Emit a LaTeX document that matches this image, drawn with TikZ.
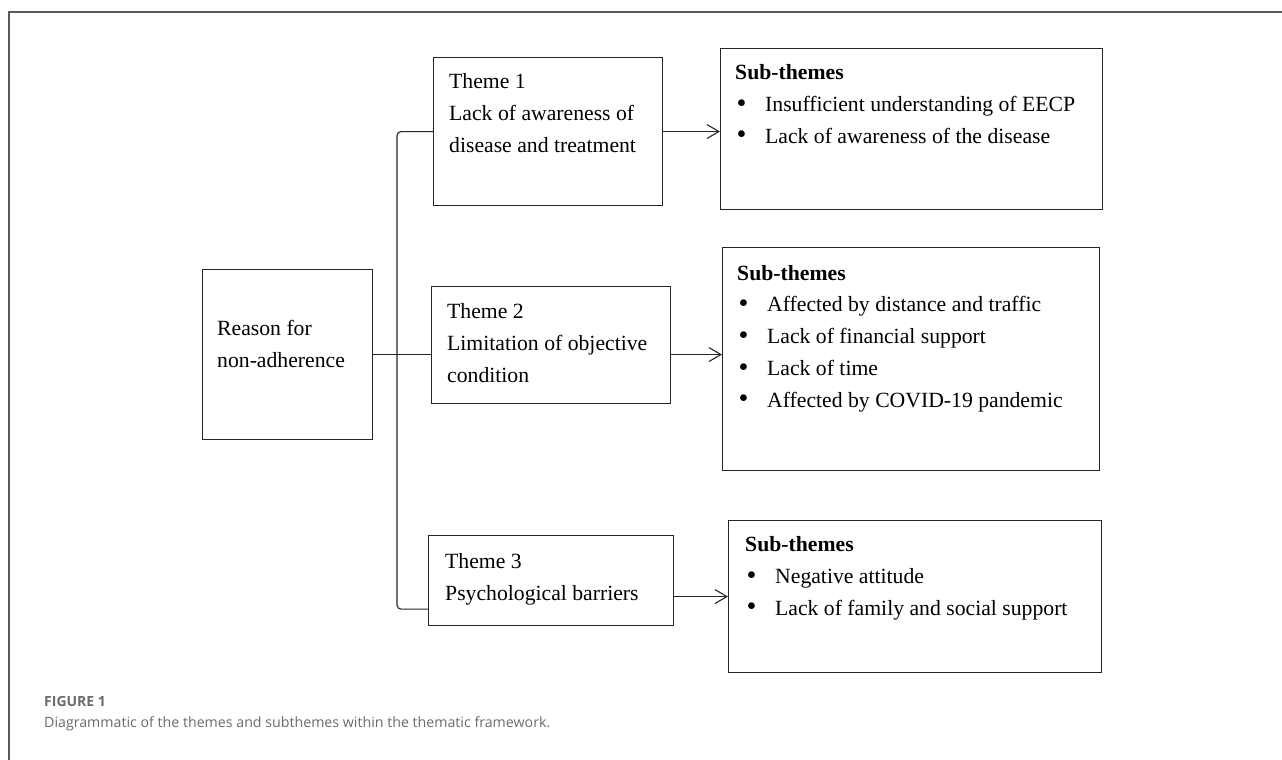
\documentclass[tikz,border=0pt]{standalone}
\usepackage{fontspec}
\setmainfont{Liberation Serif}
\newfontfamily\capfont{Open Sans}
\usetikzlibrary{arrows.meta,positioning}

\definecolor{capgray}{HTML}{6B6B6B}
\newcommand{\bodyfont}{\fontsize{21.7}{31.7}\selectfont}
\newcommand{\bitem}[1]{\makebox[30pt][l]{\hspace{1.5pt}\raisebox{-0.8pt}{\scalebox{1.3}{\textbullet}}}#1}

\begin{document}
\begin{tikzpicture}[x=1pt,y=-1pt,>={Straight Barb[length=12pt,width=14pt]},
        box/.style={draw=black!85,line width=1.1pt,anchor=north west,inner sep=0pt},
        txt/.style={anchor=base west,inner sep=0pt,align=left,font=\bodyfont},
        link/.style={draw=black!85,line width=1.1pt}]
  \useasboundingbox (0,0) rectangle (1282,760);
  % frame
  \draw[black!65,line width=1.4pt] (1282,12) -- (9,12) -- (9,760);

  % boxes
  \node[box,minimum width=170pt,minimum height=170pt] (r) at (202,269) {};
  \node[box,minimum width=229pt,minimum height=148pt] (t1) at (433,57) {};
  \node[box,minimum width=239pt,minimum height=117pt] (t2) at (431,286) {};
  \node[box,minimum width=245pt,minimum height=90pt] (t3) at (428,535) {};
  \node[box,minimum width=382pt,minimum height=161pt] (s1) at (720,48) {};
  \node[box,minimum width=377pt,minimum height=223pt] (s2) at (722,247) {};
  \node[box,minimum width=373pt,minimum height=152pt] (s3) at (728,520) {};

  % texts (base = last line)
  \node[txt] (rtx) at ([shift={(15,98)}]r.north west) {Reason for\\non-adherence};
  \node[txt] (t1x) at ([shift={(16,95)}]t1.north west) {Theme 1\\Lack of awareness of\\disease and treatment};
  \node[txt] (t2x) at ([shift={(16,96)}]t2.north west) {Theme 2\\Limitation of objective\\condition};
  \node[txt] (t3x) at ([shift={(17,65)}]t3.north west) {Theme 3\\Psychological barriers};
  \node[txt] (s1x) at ([shift={(15,95)}]s1.north west) {\textbf{Sub-themes}\\
    \bitem{Insufficient understanding of EECP}\\
    \bitem{Lack of awareness of the disease}};
  \node[txt] (s2x) at ([shift={(15,160)}]s2.north west) {\textbf{Sub-themes}\\
    \bitem{Affected by distance and traffic}\\
    \bitem{Lack of financial support}\\
    \bitem{Lack of time}\\
    \bitem{Affected by COVID-19 pandemic}};
  \node[txt] (s3x) at ([shift={(17,95)}]s3.north west) {\textbf{Sub-themes}\\
    \bitem{Negative attitude}\\
    \bitem{Lack of family and social support}};

  % connectors
  \coordinate (bx) at (397,0);
  \coordinate (b3) at ([yshift=17pt]t3.south west);
  \draw[link] (r.east) -- (r.east -| t2.west);
  \draw[link,rounded corners=4pt] (t1.west) -- (t1.west -| bx) -- (b3 -| bx) -- (b3);
  \draw[link,->] (t1.east) -- (t1.east -| s1.west);
  \draw[link,->] (r.east -| t2.east) -- (r.east -| s2.west);
  \draw[link,->] (s3.west -| t3.east) -- (s3.west);

  % caption
  \node[anchor=base west,inner sep=0pt,text=capgray,font=\capfont\bfseries\fontsize{14}{16}\selectfont] (figno) at (44,706) {FIGURE 1};
  \node[anchor=base west,inner sep=0pt,text=capgray,font=\capfont\fontsize{14.2}{17}\selectfont] (figcap) at (44,727) {Diagrammatic of the themes and subthemes within the thematic framework.};
\end{tikzpicture}
\end{document}
